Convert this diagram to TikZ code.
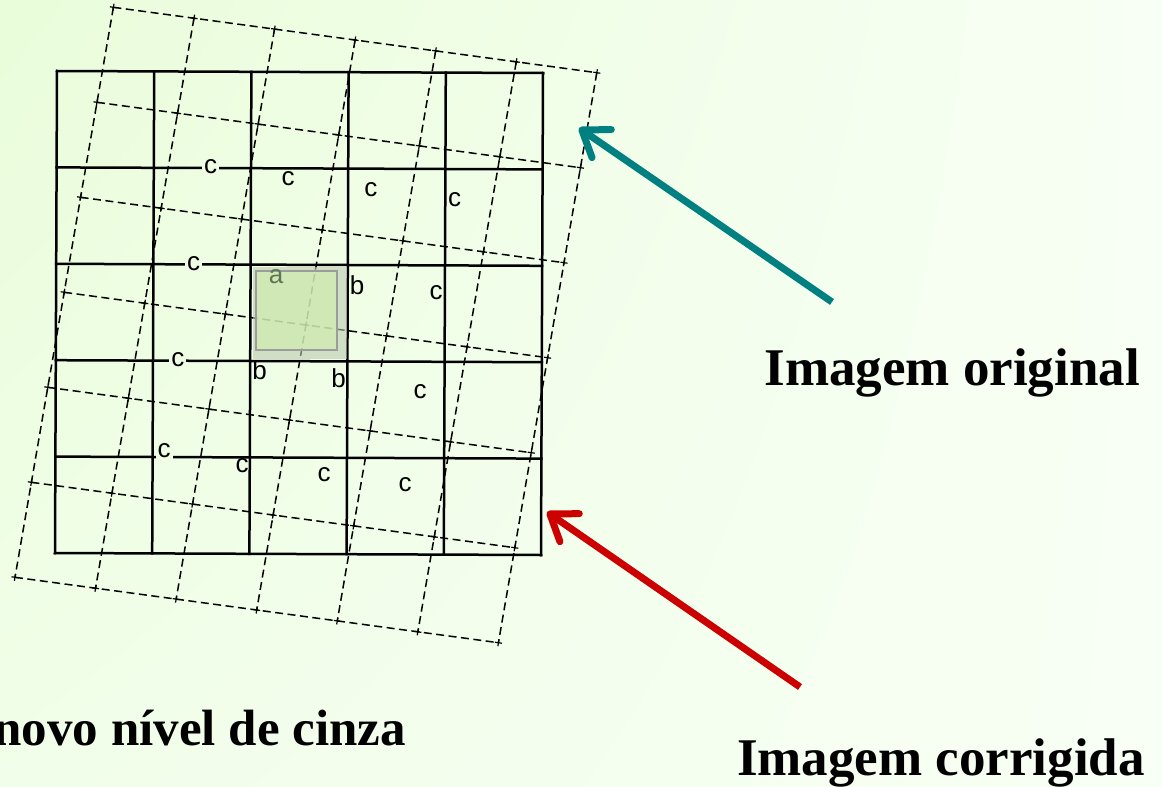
\documentclass[tikz,border=0pt]{standalone}
\usepackage{fontspec}
\setmainfont{Liberation Serif}
\setsansfont{Liberation Sans}
\usetikzlibrary{arrows.meta,calc,shadings}
\definecolor{bgul}{HTML}{E9FDDA}
\definecolor{bgur}{HTML}{F8FFF5}
\definecolor{bgll}{HTML}{F1FEE9}
\definecolor{bglr}{HTML}{F8FFF5}
\definecolor{bgmid}{HTML}{EEFDE3}
\definecolor{hlband}{HTML}{BCC9B0}
\definecolor{hlfill}{HTML}{CFEDB0}
\definecolor{hldraw}{HTML}{9C9C9C}
\definecolor{alabel}{HTML}{5E7656}
\definecolor{tealarrow}{HTML}{008080}
\definecolor{redarrow}{HTML}{CC0000}
\tikzstyle{grid}=[line width=2.5pt,line cap=rect]
\tikzstyle{rotgrid}=[line width=1.5pt,dash pattern=on 8pt off 4.5pt]
\tikzstyle{tick}=[line width=1.2pt]
\tikzstyle{lbl}=[font=\sffamily\fontsize{26}{26}\selectfont,inner sep=1pt]
\tikzstyle{online}=[lbl,fill=bgmid,inner sep=2pt]
\tikzstyle{title}=[font=\bfseries\fontsize{53}{53}\selectfont,inner sep=0pt]
\tikzstyle{pointer}=[line width=7pt,-{Straight Barb[length=24pt,width=34pt,round]}]

\begin{document}
\begin{tikzpicture}[x=1pt,y=-1pt]
  \useasboundingbox (0,0) rectangle (1162,787);
  \clip (0,0) rectangle (1162,787);
  \shade[upper left=bgul,upper right=bgur,lower left=bgll,lower right=bglr]
    (0,0) rectangle (1162,787);

  \foreach \i in {0,...,5} {
    \draw[grid] (57+97.2*\i,71+0.4*\i) -- (55+97.2*\i,553+0.4*\i);
    \draw[grid] (57-0.4*\i,71+96.4*\i) -- (543-0.4*\i,73+96.4*\i);
  }

  \foreach \i in {0,...,6} {
    \draw[rotgrid] (113.4+80.57*\i,7.3+10.9*\i) -- (15+80.57*\i,577.3+10.9*\i);
    \draw[rotgrid] (113.4-16.4*\i,7.3+95*\i) -- (596.8-16.4*\i,72.7+95*\i);
  }
  \foreach \i in {0,...,6}
    \foreach \j in {0,...,6} {
      \coordinate (d-\i-\j) at (113.4+80.57*\i-16.4*\j,7.3+10.9*\i+95*\j);
      \draw[tick] ($(d-\i-\j)+(-3.5,-0.5)$) -- ($(d-\i-\j)+(3.5,0.5)$);
      \draw[tick] ($(d-\i-\j)+(0.6,-3.5)$) -- ($(d-\i-\j)+(-0.6,3.5)$);
    }

  \fill[hlband,fill opacity=0.6] (252.5,266.5) rectangle (346.5,359);
  \draw[hldraw,line width=2.5pt,fill=hlfill,fill opacity=0.7] (256,271) rectangle (337,350);
  \node[lbl,text=alabel] (a) at (276,277) {a};

  \foreach \x/\y [count=\k] in {210.7/166.7,193.7/263.3,177.9/359.3,164/451}
    \node[online] (cl\k) at (\x,\y) {c};
  \foreach \x/\y [count=\k] in {288/179,370.8/190,454.5/200,436/293,420/391.7,
      242/465.7,324/475,405/484.3}
    \node[lbl] (c\k) at (\x,\y) {c};
  \foreach \x/\y [count=\k] in {357/285,259.7/370,338.7/378.3}
    \node[lbl] (b\k) at (\x,\y) {b};

  \node[title,anchor=base east] (orig) at (1140,385) {Imagem original};
  \node[title,anchor=base east] (corr) at (1145,775) {Imagem corrigida};
  \node[title,anchor=base east,font=\bfseries\fontsize{51}{51}\selectfont] (novo) at (406,745) {novo nível de cinza};

  \coordinate (origtail) at (832,302);
  \coordinate (origtip) at (579,128);
  \coordinate (corrtail) at (800,687);
  \coordinate (corrtip) at (547,512);
  \draw[pointer,tealarrow] (origtail) -- (origtip);
  \draw[pointer,redarrow] (corrtail) -- (corrtip);
\end{tikzpicture}
\end{document}
